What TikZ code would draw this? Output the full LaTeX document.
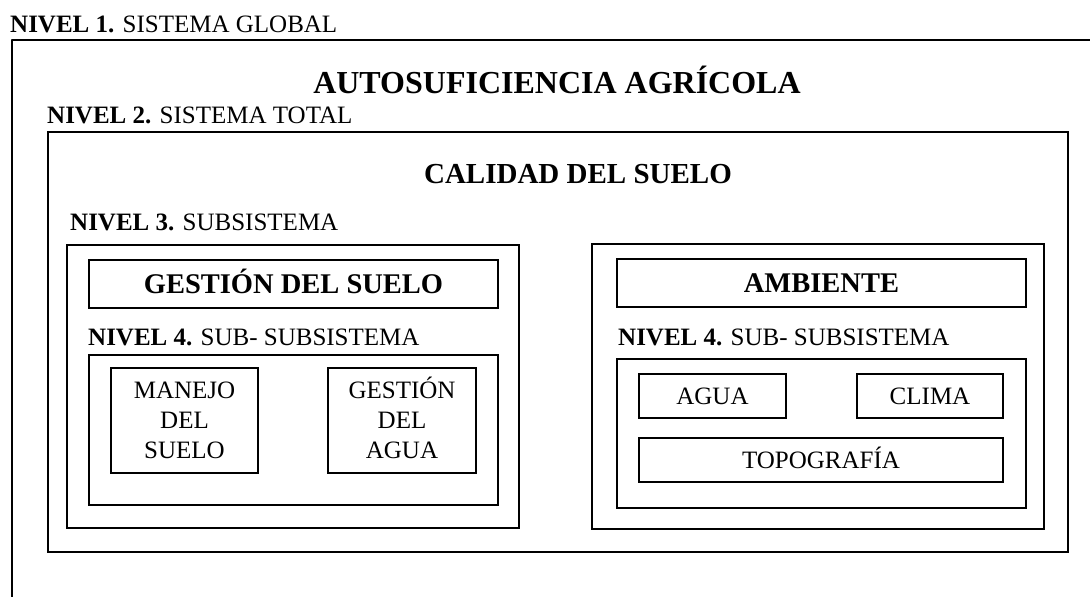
\documentclass[tikz,border=0pt]{standalone}
\usepackage{fontspec}
\setmainfont{Liberation Serif}
\usetikzlibrary{positioning}
\tikzstyle{every picture} += [x=1pt,y=-1pt]
\tikzstyle{frame}=[draw, line width=2.6pt, line join=round]
\tikzstyle{box}=[draw, line width=2.3pt, rectangle, anchor=north west, inner sep=0pt, outer sep=0pt, align=center, text height=16.5pt, text depth=0pt, font=\fontsize{25}{30}\selectfont]
\tikzstyle{head}=[box, text height=19pt, font=\fontsize{28.5}{34}\selectfont\bfseries]
\tikzstyle{title}=[anchor=base, inner sep=0pt, font=\bfseries]
\tikzstyle{level}=[anchor=base west, inner sep=0pt, font=\fontsize{25}{30}\selectfont]
\newcommand{\nivel}[2]{\textbf{NIVEL #1.} #2}

\begin{document}
\begin{tikzpicture}

\useasboundingbox (0,0) rectangle (1090,597);
\clip (0,0) rectangle (1090,597);

% level 1
\node[level] (n1) at (10,32) {\nivel{1}{SISTEMA GLOBAL}};
\draw[frame] (1100,40) -| (12,610);
\node[title, font=\fontsize{32}{38}\selectfont\bfseries] (auto) at (557,93) {AUTOSUFICIENCIA AGRÍCOLA};

% level 2
\node[level] (n2) at (47,123) {\nivel{2}{SISTEMA TOTAL}};
\node[box, minimum width=1020, minimum height=420] (total) at (48,132) {};
\node[title, font=\fontsize{29}{35}\selectfont\bfseries] (calidad) at (578,183) {CALIDAD DEL SUELO};

% level 3
\node[level] (n3) at (70,230) {\nivel{3}{SUBSISTEMA}};
\node[box, minimum width=452, minimum height=283] (sub1) at (67,245) {};
\node[box, minimum width=452, minimum height=285] (sub2) at (592,244) {};
\node[head, minimum width=409, minimum height=48] (gestion) at (89,260) {GESTIÓN DEL SUELO};
\node[head, minimum width=409, minimum height=48] (ambiente) at (617,259) {AMBIENTE};

% level 4
\node[level] (n4a) at (88,345) {\nivel{4}{SUB- SUBSISTEMA}};
\node[level] (n4b) at (618,345) {\nivel{4}{SUB- SUBSISTEMA}};
\node[box, minimum width=409, minimum height=150] (ss1) at (89,355) {};
\node[box, minimum width=409, minimum height=149] (ss2) at (617,359) {};

\node[box, text height=76.5pt, minimum width=147, minimum height=105] (manejo) at (111,368) {MANEJO\\DEL\\SUELO};
\node[box, text height=76.5pt, minimum width=148, minimum height=105] (gagua) at (328,368) {GESTIÓN\\DEL\\AGUA};

\node[box, minimum width=147, minimum height=44] (agua) at (639,374) {AGUA};
\node[box, minimum width=146, minimum height=44] (clima) at (857,374) {CLIMA};
\node[box, minimum width=364, minimum height=44] (topo) at (639,438) {TOPOGRAFÍA};

\end{tikzpicture}
\end{document}
